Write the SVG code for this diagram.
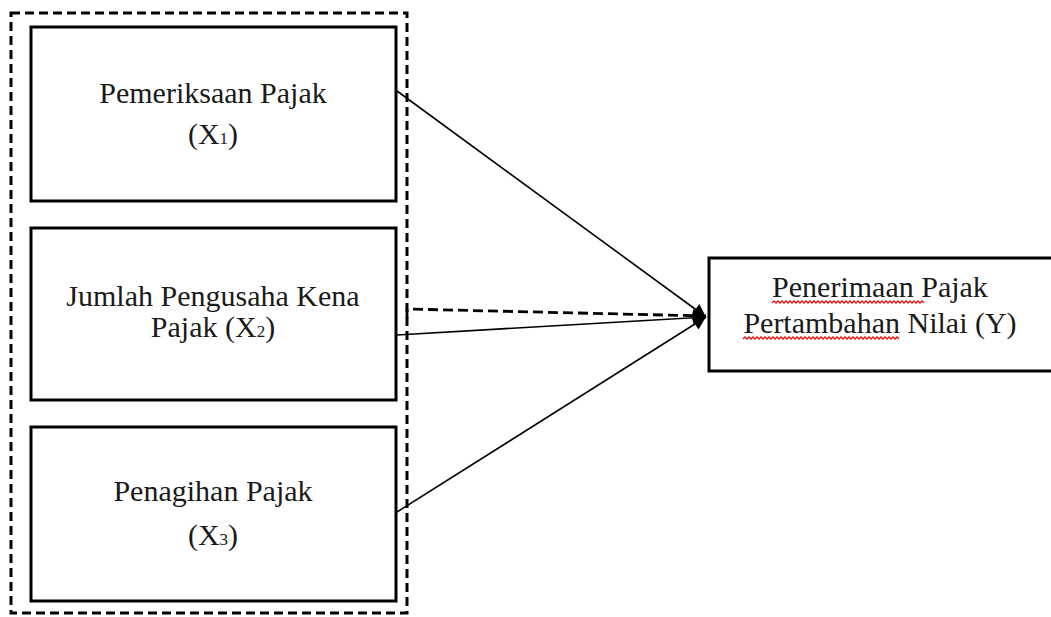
<svg xmlns="http://www.w3.org/2000/svg" width="1051" height="617" viewBox="0 0 1051 617">
<style>
.box{fill:#fff;stroke:#000;stroke-width:3}
.grp{fill:none;stroke:#000;stroke-width:3;stroke-dasharray:9 5}
.t{font-family:"Liberation Serif","Times New Roman",serif;font-size:30px;fill:#1a1a1a;text-anchor:middle}
.sub{font-size:17px}
.ln{stroke:#000;stroke-width:1.6;fill:none}
.dl{stroke:#000;stroke-width:2.8;fill:none;stroke-dasharray:10 5}
.sq{fill:none;stroke:#e01010;stroke-width:1.3}
</style>
<defs>
<marker id="ah" viewBox="0 0 10 10" refX="10" refY="5" markerWidth="16" markerHeight="13" markerUnits="userSpaceOnUse" orient="auto">
<path d="M0,0 L10,5 L0,10 z" fill="#000"/>
</marker>
</defs>
<rect x="11" y="13" width="396" height="600" class="grp"/>
<g id="x1">
<rect x="31" y="27" width="365" height="174" class="box"/>
<text class="t" x="213" y="103">Pemeriksaan Pajak</text>
<text class="t" x="213" y="144">(X<tspan class="sub">1</tspan>)</text>
</g>
<g id="x2">
<rect x="31" y="228" width="365" height="172" class="box"/>
<text class="t" x="213" y="306">Jumlah Pengusaha Kena</text>
<text class="t" x="213" y="337">Pajak (X<tspan class="sub">2</tspan>)</text>
</g>
<g id="x3">
<rect x="31" y="427" width="365" height="174" class="box"/>
<text class="t" x="213" y="501">Penagihan Pajak</text>
<text class="t" x="213" y="545">(X<tspan class="sub">3</tspan>)</text>
</g>
<g id="y">
<rect x="709" y="258" width="350" height="113" class="box"/>
<text class="t" x="880" y="297">Penerimaan Pajak</text>
<text class="t" x="880" y="333">Pertambahan Nilai (Y)</text>
<path class="sq" d="M772,303 l2,-2 l2,2 l2,-2 l2,2 l2,-2 l2,2 l2,-2 l2,2 l2,-2 l2,2 l2,-2 l2,2 l2,-2 l2,2 l2,-2 l2,2 l2,-2 l2,2 l2,-2 l2,2 l2,-2 l2,2 l2,-2 l2,2 l2,-2 l2,2 l2,-2 l2,2 l2,-2 l2,2 l2,-2 l2,2 l2,-2 l2,2 l2,-2 l2,2 l2,-2 l2,2 l2,-2 l2,2 l2,-2 l2,2 l2,-2 l2,2 l2,-2 l2,2 l2,-2 l2,2 l2,-2 l2,2 l2,-2 l2,2 l2,-2 l2,2 l2,-2 l2,2 l2,-2 l2,2 l2,-2 l2,2 l2,-2 l2,2 l2,-2 l2,2 l2,-2 l2,2 l2,-2 l2,2 l2,-2 l2,2 l2,-2 l2,2 l2,-2 l2,2 l2,-2 l2,2"/>
<path class="sq" d="M743,339 l2,-2 l2,2 l2,-2 l2,2 l2,-2 l2,2 l2,-2 l2,2 l2,-2 l2,2 l2,-2 l2,2 l2,-2 l2,2 l2,-2 l2,2 l2,-2 l2,2 l2,-2 l2,2 l2,-2 l2,2 l2,-2 l2,2 l2,-2 l2,2 l2,-2 l2,2 l2,-2 l2,2 l2,-2 l2,2 l2,-2 l2,2 l2,-2 l2,2 l2,-2 l2,2 l2,-2 l2,2 l2,-2 l2,2 l2,-2 l2,2 l2,-2 l2,2 l2,-2 l2,2 l2,-2 l2,2 l2,-2 l2,2 l2,-2 l2,2 l2,-2 l2,2 l2,-2 l2,2 l2,-2 l2,2 l2,-2 l2,2 l2,-2 l2,2 l2,-2 l2,2 l2,-2 l2,2 l2,-2 l2,2 l2,-2 l2,2 l2,-2 l2,2 l2,-2 l2,2 l2,-2 l2,2"/>
</g>
<g id="connectors">
<line class="ln" x1="397" y1="91" x2="706" y2="317" marker-end="url(#ah)"/>
<line class="ln" x1="397" y1="335" x2="706" y2="317" marker-end="url(#ah)"/>
<line class="ln" x1="397" y1="512" x2="706" y2="317" marker-end="url(#ah)"/>
<path class="dl" d="M407,318 L407,309 L706,316" marker-end="url(#ah)"/>
</g>
</svg>
